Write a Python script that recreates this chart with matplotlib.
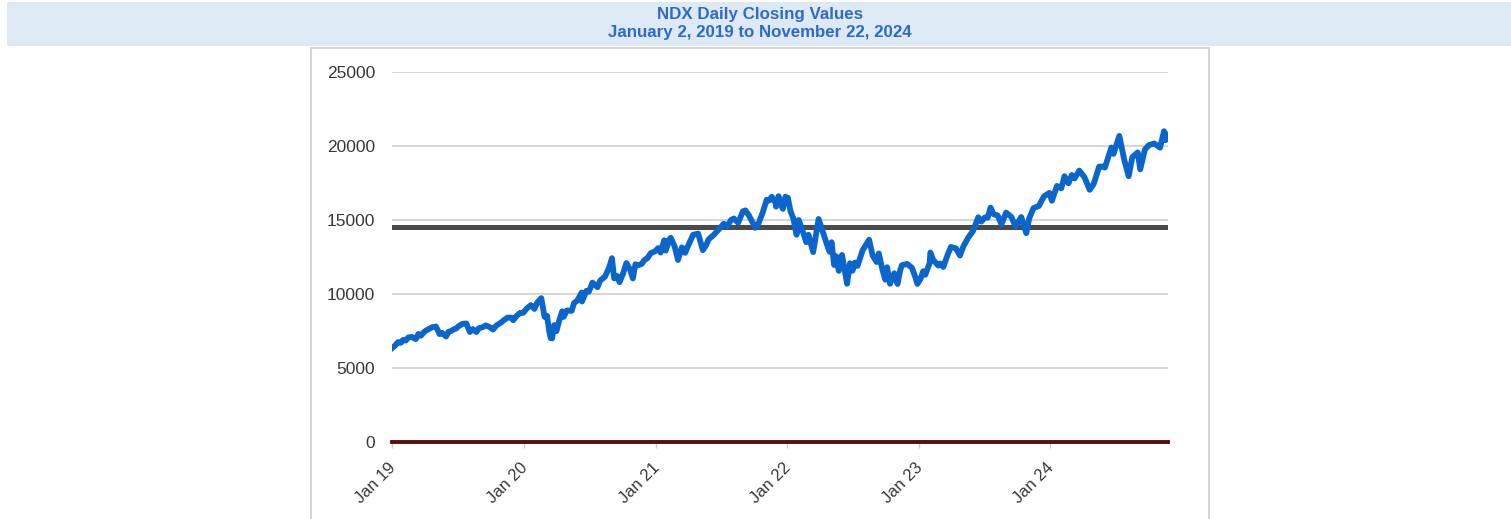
import matplotlib.pyplot as plt
import matplotlib.dates as mdates
from matplotlib.patches import Rectangle
import matplotlib.transforms as mtransforms
import numpy as np
import pandas as pd

# NDX closes (approximate, ~every 10 trading days)
dates = [
    '2019-01-02', '2019-01-10', '2019-01-18', '2019-01-25', '2019-02-01', '2019-02-08',
    '2019-02-15', '2019-02-25', '2019-03-08', '2019-03-15', '2019-03-22', '2019-03-29',
    '2019-04-05', '2019-04-12', '2019-04-23', '2019-05-03', '2019-05-13', '2019-05-20',
    '2019-05-31', '2019-06-07', '2019-06-14', '2019-06-21', '2019-06-28', '2019-07-05',
    '2019-07-15', '2019-07-26', '2019-08-05', '2019-08-13', '2019-08-23', '2019-08-30',
    '2019-09-10', '2019-09-18', '2019-09-30', '2019-10-08', '2019-10-18', '2019-10-31',
    '2019-11-08', '2019-11-18', '2019-11-29', '2019-12-03', '2019-12-13', '2019-12-23',
    '2019-12-31',
    '2020-01-10', '2020-01-21', '2020-01-31', '2020-02-07', '2020-02-19', '2020-02-28',
    '2020-03-06', '2020-03-12', '2020-03-16', '2020-03-20', '2020-03-26', '2020-04-01',
    '2020-04-09', '2020-04-17', '2020-04-21', '2020-04-30', '2020-05-13', '2020-05-20',
    '2020-05-29', '2020-06-10', '2020-06-11', '2020-06-23', '2020-06-30', '2020-07-10',
    '2020-07-24', '2020-07-31', '2020-08-14', '2020-08-26', '2020-09-02', '2020-09-08',
    '2020-09-16', '2020-09-23', '2020-10-02', '2020-10-12', '2020-10-22', '2020-10-30',
    '2020-11-06', '2020-11-13', '2020-11-24', '2020-11-30', '2020-12-10', '2020-12-18',
    '2020-12-31',
    '2021-01-08', '2021-01-15', '2021-01-25', '2021-01-29', '2021-02-08', '2021-02-12',
    '2021-02-23', '2021-03-04', '2021-03-15', '2021-03-24', '2021-04-01', '2021-04-15',
    '2021-04-29', '2021-05-12', '2021-05-21', '2021-05-28', '2021-06-11', '2021-06-25',
    '2021-07-09', '2021-07-19', '2021-07-29', '2021-08-06', '2021-08-18', '2021-08-31',
    '2021-09-07', '2021-09-17', '2021-09-30', '2021-10-04', '2021-10-13', '2021-10-25',
    '2021-11-05', '2021-11-12', '2021-11-19', '2021-11-30', '2021-12-01', '2021-12-08',
    '2021-12-13', '2021-12-20', '2021-12-27',
    '2022-01-03', '2022-01-10', '2022-01-18', '2022-01-27', '2022-02-02', '2022-02-10',
    '2022-02-23', '2022-03-01', '2022-03-14', '2022-03-29', '2022-04-07', '2022-04-14',
    '2022-04-26', '2022-04-29', '2022-05-04', '2022-05-11', '2022-05-17', '2022-05-24',
    '2022-06-02', '2022-06-13', '2022-06-16', '2022-06-24', '2022-07-01', '2022-07-08',
    '2022-07-15', '2022-07-29', '2022-08-16', '2022-08-26', '2022-09-06', '2022-09-12',
    '2022-09-22', '2022-09-30', '2022-10-05', '2022-10-13', '2022-10-25', '2022-11-03',
    '2022-11-10', '2022-11-15', '2022-11-30', '2022-12-13', '2022-12-22', '2022-12-28',
    '2023-01-06', '2023-01-13', '2023-01-19', '2023-01-31', '2023-02-02', '2023-02-10',
    '2023-02-24', '2023-03-01', '2023-03-10', '2023-03-22', '2023-03-31', '2023-04-14',
    '2023-04-25', '2023-05-05', '2023-05-18', '2023-05-31', '2023-06-15', '2023-06-23',
    '2023-07-03', '2023-07-11', '2023-07-19', '2023-07-27', '2023-08-08', '2023-08-18',
    '2023-08-31', '2023-09-15', '2023-09-26', '2023-10-12', '2023-10-26', '2023-11-03',
    '2023-11-15', '2023-11-30', '2023-12-14', '2023-12-29',
    '2024-01-05', '2024-01-19', '2024-01-31', '2024-02-09', '2024-02-20', '2024-02-29',
    '2024-03-08', '2024-03-21', '2024-04-04', '2024-04-19', '2024-04-30', '2024-05-15',
    '2024-05-23', '2024-05-31', '2024-06-18', '2024-06-24', '2024-07-10', '2024-07-24',
    '2024-08-05', '2024-08-15', '2024-08-30', '2024-09-06', '2024-09-19', '2024-09-30',
    '2024-10-15', '2024-10-31', '2024-11-11', '2024-11-15', '2024-11-22',
]
closes = [
    6360, 6530, 6750, 6700, 6900, 6850,
    7060, 7100, 6950, 7300, 7180, 7380,
    7530, 7620, 7760, 7800, 7290, 7370,
    7130, 7450, 7500, 7610, 7670, 7830,
    7980, 8010, 7430, 7630, 7430, 7690,
    7760, 7880, 7750, 7600, 7880, 8080,
    8250, 8410, 8400, 8230, 8530, 8730,
    8730,
    9030, 9250, 8990, 9400, 9720, 8460,
    8530, 7480, 7020, 7000, 7900, 7490,
    8230, 8830, 8450, 8890, 8860, 9390,
    9560, 10100, 9490, 10210, 10160, 10770,
    10460, 10900, 11180, 11850, 12420, 11060,
    11220, 10800, 11330, 12090, 11670, 11050,
    12010, 11940, 12040, 12270, 12440, 12750,
    12890,
    13100, 12800, 13630, 12930, 13680, 13800,
    13200, 12300, 13150, 12780, 13250, 14000,
    14080, 12960, 13300, 13690, 13990, 14360,
    14750, 14580, 15000, 15100, 14810, 15580,
    15650, 15300, 14690, 14470, 14750, 15500,
    16370, 16320, 16570, 16140, 15900, 16610,
    16110, 15750, 16570,
    16500, 15600, 15100, 14000, 15000, 14460,
    13500, 14000, 12830, 15070, 14400, 13900,
    13000, 12850, 13500, 11960, 12550, 11560,
    12640, 11120, 10690, 12080, 11570, 12130,
    11900, 12950, 13670, 12600, 12160, 12740,
    11650, 10970, 11810, 10690, 11400, 10680,
    11570, 11950, 12030, 11770, 11160, 10680,
    11040, 11540, 11300, 12100, 12800, 12300,
    11920, 12060, 11830, 12660, 13180, 13080,
    12600, 13240, 13810, 14250, 15190, 14890,
    15170, 15160, 15840, 15400, 15300, 14700,
    15500, 15200, 14540, 15200, 14110, 15100,
    15800, 15950, 16600, 16830,
    16300, 17300, 17140, 17960, 17480, 18040,
    17810, 18340, 17900, 17040, 17440, 18600,
    18620, 18540, 19900, 19470, 20680, 19030,
    17960, 19240, 19570, 18420, 19770, 20060,
    20170, 19890, 21000, 20390, 20740,
]
avg_level = 14500
y_ticks = [0, 5000, 10000, 15000, 20000, 25000]
x_ticks = ['2019-01-01', '2020-01-01', '2021-01-01', '2022-01-01', '2023-01-01', '2024-01-01']
title1 = 'NDX Daily Closing Values'
title2 = 'January 2, 2019 to November 22, 2024'

W, H = 1511, 519
fig = plt.figure(figsize=(W / 100, H / 100), dpi=100)
fig.patch.set_facecolor('white')

# title band
fig.add_artist(Rectangle((7 / W, 1 - 46 / H), 1 - 7 / W, 44 / H, transform=fig.transFigure,
                         facecolor='#dde9f4', edgecolor='none', zorder=-2))
fig.text(760 / W, 1 - 15 / H, title1, ha='center', va='center', fontsize=12.2,
         fontweight='bold', color='#2f6bc6', family='Liberation Sans')
fig.text(760 / W, 1 - 33 / H, title2, ha='center', va='center', fontsize=12.2,
         fontweight='bold', color='#2f6bc6', family='Liberation Sans')

# frame of the embedded chart
fig.add_artist(Rectangle((311 / W, -0.1), (1209 - 311) / W, 1 - 48 / H + 0.1,
                         transform=fig.transFigure, facecolor='white',
                         edgecolor='#cccccc', lw=1.2, zorder=-1))

ax = fig.add_axes([392 / W, 1 - 442 / H, (1168 - 392) / W, (442 - 72) / H])
ax.set_zorder(1)
ax.set_facecolor('none')
x = pd.to_datetime(dates)
ax.set_xlim(pd.Timestamp('2019-01-01'), pd.Timestamp('2024-11-22'))
ax.set_ylim(0, 25000)

for t in y_ticks[1:]:
    ax.axhline(t, color='#d4d4d4', lw=1.3, zorder=1)
ax.axhline(0, color='#5c0b0b', lw=2.8, zorder=2, clip_on=False)
ax.axhline(avg_level, color='#4a4a4a', lw=3.6, zorder=2)
ax.plot(x, closes, color='#0a66cc', lw=4.2, zorder=3, solid_joinstyle='round')

for s in ax.spines.values():
    s.set_visible(False)
ax.set_yticks(y_ticks)
ax.set_yticklabels([str(t) for t in y_ticks], family='Liberation Sans', fontsize=12.5,
                   color='#383838')
ax.tick_params(axis='y', length=0, pad=12)
ax.set_xticks(pd.to_datetime(x_ticks))
ax.xaxis.set_major_formatter(mdates.DateFormatter('Jan %y'))
ax.tick_params(axis='x', length=4, width=1, color='#cccccc', pad=7)
shift = mtransforms.ScaledTranslation(-4 / 100, -3 / 100, fig.dpi_scale_trans)
for lbl in ax.get_xticklabels():
    lbl.set_rotation(45)
    lbl.set_ha('right')
    lbl.set_rotation_mode('anchor')
    lbl.set_family('Liberation Sans')
    lbl.set_fontsize(12)
    lbl.set_color('#383838')
    lbl.set_transform(lbl.get_transform() + shift)

fig.savefig('out.png', dpi=100)
